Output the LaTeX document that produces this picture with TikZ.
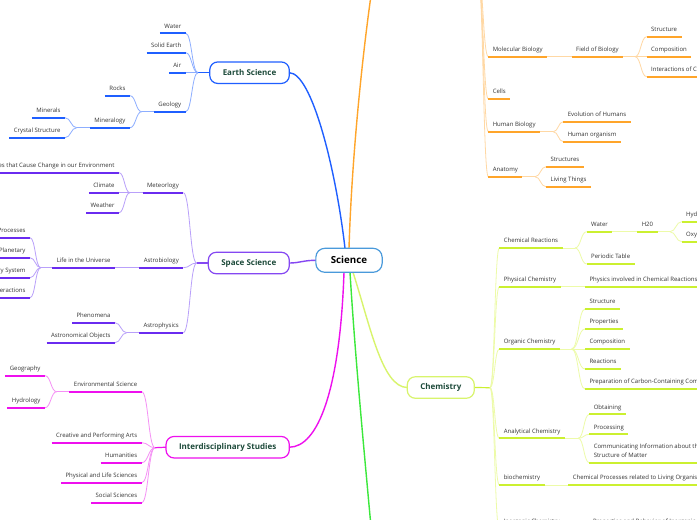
\documentclass[tikz,border=0pt]{standalone}
\usepackage{fontspec}
\setmainfont{Open Sans}
\usetikzlibrary{calc,backgrounds}
\definecolor{eb}{HTML}{1F5FFF}
\definecolor{ebp}{HTML}{8DAEFF}
\definecolor{sp}{HTML}{8547F2}
\definecolor{spu}{HTML}{6A2BF0}
\definecolor{spp}{HTML}{B9A0FA}
\definecolor{mg}{HTML}{EE10EE}
\definecolor{mgp}{HTML}{F590F5}
\definecolor{org}{HTML}{FFA52A}
\definecolor{orp}{HTML}{FFD8A4}
\definecolor{lm}{HTML}{CBF030}
\definecolor{lmb}{HTML}{D8F46C}
\definecolor{lmp}{HTML}{EDFBA8}
\definecolor{grn}{HTML}{3BE83B}
\definecolor{scb}{HTML}{4A9ADB}
\definecolor{tx}{HTML}{333333}
\definecolor{tp}{HTML}{1D4A3A}
\tikzset{
  lbl/.style={font=\fontsize{6}{9}\selectfont, text=tx, inner xsep=4.5pt, inner ysep=4pt,
    text height=4.4pt, text depth=1.3pt, outer sep=0pt},
  lleaf/.style={lbl, anchor=south east, append after command={(\tikzlastnode.south west) edge[draw=#1, line width=1.7pt] (\tikzlastnode.south east)}},
  rleaf/.style={lbl, anchor=south west, append after command={(\tikzlastnode.south west) edge[draw=#1, line width=1.7pt] (\tikzlastnode.south east)}},
  pc/.style={draw=#1, line width=0.8pt},
  stub/.style={draw=#1, line width=1.2pt},
  branch/.style={draw=#1, line width=1.4pt},
  hc/.style={to path={.. controls ($(\tikztostart)!0.5!(\tikztostart -| \tikztotarget)$) and ($(\tikztotarget)!0.5!(\tikztotarget -| \tikztostart)$) .. (\tikztotarget)}},
  topic/.style={draw=#1, line width=1.2pt, rounded corners=8pt, fill=white,
    font=\fontsize{8}{9}\selectfont\bfseries, text=tp, inner xsep=13pt, inner ysep=0pt,
    minimum height=21.5pt, outer sep=0pt},
}
\begin{document}
\begin{tikzpicture}[x=1pt, y=-1pt]
\useasboundingbox (0,0) rectangle (697,520);
\clip (0,0) rectangle (697,520);

% central
\node[draw=scb, line width=1.2pt, rounded corners=9pt, fill=white, font=\fontsize{9.75}{11}\selectfont\bfseries,
  text=black, inner xsep=15pt, inner ysep=0pt, minimum height=24pt, outer sep=0pt] (sci) at (349,260.3) {Science};

% ---------- Earth Science ----------
\node[topic=eb, anchor=east] (es) at (289.3,72.7) {Earth Science};
\coordinate (es-j) at (198,72.7);
\node[lleaf=eb] (water) at (185.7,33.3) {Water};
\node[lleaf=eb] (solid) at (185.7,52.7) {Solid Earth};
\node[lleaf=eb] (air) at (185.7,72.7) {Air};
\node[lleaf=eb] (geol) at (185.7,111.7) {Geology};
\coordinate (geo-j) at (141.7,111.7);
\node[lleaf=eb] (rocks) at (130,95.7) {Rocks};
\node[lleaf=eb] (minlgy) at (130,127.7) {Mineralogy};
\coordinate (min-j) at (76.7,127.7);
\node[lleaf=eb] (minerals) at (65,117.7) {Minerals};
\node[lleaf=eb] (crystal) at (65,137.7) {Crystal Structure};

% ---------- Space Science ----------
\node[topic=sp, anchor=east] (ss) at (289.3,263) {Space Science};
\coordinate (ss-j) at (196.7,263);
\node[lleaf=spu] (meteo) at (183.3,192.7) {Meteorlogy};
\node[lleaf=spu] (astrob) at (183.3,267.7) {Astrobiology};
\node[lleaf=spu] (astrop) at (183.3,332.7) {Astrophysics};
\coordinate (met-j) at (130,192.7);
\node[lleaf=spu] (procenv) at (119,172.7) {Processes that Cause Change in our Environment};
\node[lleaf=spu] (climate) at (119,192.7) {Climate};
\node[lleaf=spu] (weather) at (119,212.7) {Weather};
\node[lleaf=spu] (life) at (115,267.7) {Life in the Universe};
\coordinate (life-j) at (40.7,267.7);
\node[lleaf=spu] (lproc) at (30,237.7) {Biological Processes};
\node[lleaf=spu] (lplan) at (30,257.7) {Planetary};
\node[lleaf=spu] (lsys) at (30,277.7) {Planetary System};
\node[lleaf=spu] (linter) at (30,297.7) {Interactions};
\coordinate (ap-j) at (126.7,332.7);
\node[lleaf=spu] (phen) at (115,322.7) {Phenomena};
\node[lleaf=spu] (aobj) at (115,342.7) {Astronomical Objects};

% ---------- Interdisciplinary ----------
\node[topic=mg, anchor=east] (is) at (289.3,447.2) {Interdisciplinary Studies};
\coordinate (is-j) at (155,447.7);
\node[lleaf=mg] (env) at (141.7,391.7) {Environmental Science};
\node[lleaf=mg] (arts) at (141.7,442.7) {Creative and Performing Arts};
\node[lleaf=mg] (hum) at (141.7,462.7) {Humanities};
\node[lleaf=mg] (physlife) at (141.7,482.7) {Physical and Life Sciences};
\node[lleaf=mg] (soc) at (141.7,502.7) {Social Sciences};
\coordinate (env-j) at (56.7,391.7);
\node[lleaf=mg] (geog) at (45,375.7) {Geography};
\node[lleaf=mg] (hydro) at (45,407.7) {Hydrology};

% ---------- Biology (box off-picture) ----------
\coordinate (bio) at (374,-25);
\coordinate (bio-j) at (478,-25);
\node[rleaf=org] (molbio) at (488.3,56.7) {Molecular Biology};
\node[rleaf=org] (field) at (571.7,56.7) {Field of Biology};
\coordinate (fb-j) at (635,56.7);
\node[rleaf=org] (bstruct) at (646.7,36.7) {Structure};
\node[rleaf=org] (bcomp) at (646.7,56.7) {Composition};
\node[rleaf=org] (binter) at (646.7,76.7) {Interactions of Components};
\node[rleaf=org] (cells) at (488.3,99) {Cells};
\node[rleaf=org] (humbio) at (488.3,131.7) {Human Biology};
\coordinate (hb-j) at (553.3,131.7);
\node[rleaf=org] (evol) at (563.3,121.7) {Evolution of Humans};
\node[rleaf=org] (horg) at (563.3,141.7) {Human organism};
\node[rleaf=org] (anat) at (488.3,176.7) {Anatomy};
\coordinate (an-j) at (535,176.7);
\node[rleaf=org] (astruct) at (546,166.7) {Structures};
\node[rleaf=org] (living) at (546,186.7) {Living Things};

% ---------- Chemistry ----------
\node[topic=lmb, anchor=west] (chem) at (407.3,387.5) {Chemistry};
\coordinate (chem-j) at (490,387.7);
\node[rleaf=lm] (chemr) at (499.3,248) {Chemical Reactions};
\coordinate (cr-j) at (575,248);
\node[rleaf=lm] (cwater) at (586.7,231.7) {Water};
\node[rleaf=lm] (h2o) at (637.3,231.7) {H20};
\coordinate (h-j) at (670,231.7);
\node[rleaf=lm] (hyd) at (681.7,221.7) {Hydrogen};
\node[rleaf=lm] (oxy) at (681.7,241.7) {Oxygen};
\node[rleaf=lm] (ptable) at (586.7,264) {Periodic Table};
\node[rleaf=lm] (physchem) at (499.3,286.7) {Physical Chemistry};
\node[rleaf=lm] (physinv) at (585,286.7) {Physics involved in Chemical Reactions};
\node[rleaf=lm] (orgchem) at (499.3,349) {Organic Chemistry};
\coordinate (oc-j) at (571.7,349);
\node[rleaf=lm] (ostruct) at (585,309) {Structure};
\node[rleaf=lm] (oprop) at (585,329) {Properties};
\node[rleaf=lm] (ocomp) at (585,349) {Composition};
\node[rleaf=lm] (oreac) at (585,369) {Reactions};
\node[rleaf=lm] (oprep) at (585,389) {Preparation of Carbon-Containing Compounds};
\node[rleaf=lm] (anachem) at (499.3,438.3) {Analytical Chemistry};
\coordinate (ac-j) at (578.3,438.3);
\node[rleaf=lm] (obtain) at (589.3,414.3) {Obtaining};
\node[rleaf=lm] (process) at (589.3,434.3) {Processing};
\node[rleaf=lm, align=left] (commun) at (589.3,462.7) {Communicating Information about the Composition and\\Structure of Matter};
\node[rleaf=lm] (biochem) at (499.3,485) {biochemistry};
\node[rleaf=lm] (cproc) at (568.3,485) {Chemical Processes related to Living Organisms};
\node[rleaf=lm] (inorg) at (499.3,529) {Inorganic Chemistry};
\node[rleaf=lm] (inprop) at (588.5,529) {Properties and Behavior of Inorganic Compounds};

% Physics (off-picture)
\coordinate (phy) at (374,560);

\begin{pgfonlayer}{background}
\fill[white] (0,0) rectangle (697,520);
% main branches
\draw[branch=eb] (es.east) .. controls (312,73) and (336,170) .. ([xshift=-4pt]sci.north);
\draw[branch=org] (sci.north) .. controls (352,150) and (364,40) .. (bio);
\draw[branch=sp] (sci.west) .. controls (303,260.3) and (300,263) .. (ss.east);
\draw[branch=mg] ([xshift=-5pt]sci.south) .. controls (340,390) and (318,447.2) .. (is.east);
\draw[branch=grn] ([xshift=1pt]sci.south) .. controls (356,370) and (366,470) .. (phy);
\draw[branch=lmb] ([xshift=4pt]sci.south) .. controls (370,325) and (382,387.5) .. (chem.west);

% Earth
\draw[stub=eb] (es.west) -- (es-j);
\foreach \n in {water,solid,air,geol} \draw[pc=ebp] (es-j) to[hc] (\n.south east);
\draw[pc=ebp] (geol.south west) -- (geo-j);
\foreach \n in {rocks,minlgy} \draw[pc=ebp] (geo-j) to[hc] (\n.south east);
\draw[pc=ebp] (minlgy.south west) -- (min-j);
\foreach \n in {minerals,crystal} \draw[pc=ebp] (min-j) to[hc] (\n.south east);

% Space
\draw[stub=sp] (ss.west) -- (ss-j);
\foreach \n in {meteo,astrob,astrop} \draw[pc=spp] (ss-j) to[hc] (\n.south east);
\draw[pc=spp] (meteo.south west) -- (met-j);
\foreach \n in {procenv,climate,weather} \draw[pc=spp] (met-j) to[hc] (\n.south east);
\draw[pc=spp] (astrob.south west) -- (life.south east);
\draw[pc=spp] (life.south west) -- (life-j);
\foreach \n in {lproc,lplan,lsys,linter} \draw[pc=spp] (life-j) to[hc] (\n.south east);
\draw[pc=spp] (astrop.south west) -- (ap-j);
\foreach \n in {phen,aobj} \draw[pc=spp] (ap-j) to[hc] (\n.south east);

% Interdisciplinary
\draw[stub=mg] (is.west) -- (is-j);
\foreach \n in {env,arts,hum,physlife,soc} \draw[pc=mgp] (is-j) to[hc] (\n.south east);
\draw[pc=mgp] (env.south west) -- (env-j);
\foreach \n in {geog,hydro} \draw[pc=mgp] (env-j) to[hc] (\n.south east);

% Biology
\foreach \n in {molbio,cells,humbio,anat} \draw[pc=orp] (bio-j) to[hc] (\n.south west);
\draw[pc=orp] (molbio.south east) -- (field.south west);
\draw[pc=orp] (field.south east) -- (fb-j);
\foreach \n in {bstruct,bcomp,binter} \draw[pc=orp] (fb-j) to[hc] (\n.south west);
\draw[pc=orp] (humbio.south east) -- (hb-j);
\foreach \n in {evol,horg} \draw[pc=orp] (hb-j) to[hc] (\n.south west);
\draw[pc=orp] (anat.south east) -- (an-j);
\foreach \n in {astruct,living} \draw[pc=orp] (an-j) to[hc] (\n.south west);

% Chemistry
\draw[stub=lm] (chem.east) -- (chem-j);
\foreach \n in {chemr,physchem,orgchem,anachem,biochem,inorg} \draw[pc=lmp] (chem-j) to[hc] (\n.south west);
\draw[pc=lmp] (chemr.south east) -- (cr-j);
\foreach \n in {cwater,ptable} \draw[pc=lmp] (cr-j) to[hc] (\n.south west);
\draw[pc=lmp] (cwater.south east) -- (h2o.south west);
\draw[pc=lmp] (h2o.south east) -- (h-j);
\foreach \n in {hyd,oxy} \draw[pc=lmp] (h-j) to[hc] (\n.south west);
\draw[pc=lmp] (physchem.south east) -- (physinv.south west);
\draw[pc=lmp] (orgchem.south east) -- (oc-j);
\foreach \n in {ostruct,oprop,ocomp,oreac,oprep} \draw[pc=lmp] (oc-j) to[hc] (\n.south west);
\draw[pc=lmp] (anachem.south east) -- (ac-j);
\foreach \n in {obtain,process,commun} \draw[pc=lmp] (ac-j) to[hc] (\n.south west);
\draw[pc=lmp] (biochem.south east) -- (cproc.south west);
\draw[pc=lmp] (inorg.south east) -- (inprop.south west);
\end{pgfonlayer}
\end{tikzpicture}
\end{document}
